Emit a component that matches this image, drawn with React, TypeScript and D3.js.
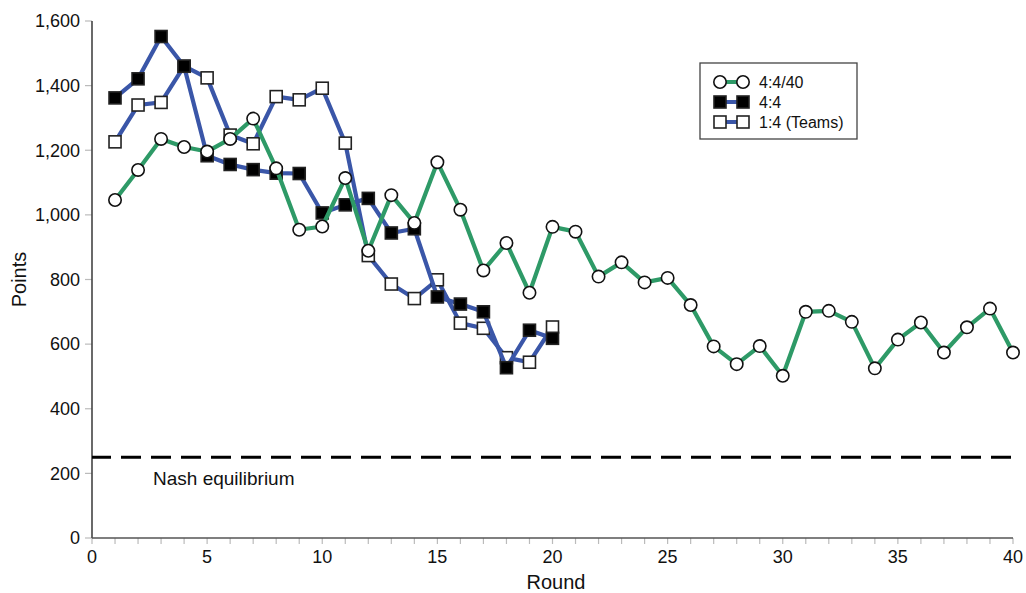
import * as d3 from 'd3'

const rounds40 = d3.range(1, 41)
const rounds20 = d3.range(1, 21)

const points4440 = [
  1046, 1139, 1235, 1210, 1196, 1235, 1298, 1144, 954, 964,
  1114, 889, 1061, 975, 1163, 1016, 828, 913, 759, 963,
  948, 809, 853, 791, 805, 721, 593, 538, 594, 502,
  700, 703, 669, 525, 614, 667, 574, 652, 710, 574,
]
const points44 = [
  1362, 1421, 1552, 1460, 1183, 1156, 1140, 1129, 1128, 1006,
  1031, 1051, 944, 957, 746, 724, 700, 527, 643, 618,
]
const pointsTeams = [
  1226, 1340, 1348, 1460, 1424, 1247, 1220, 1366, 1356, 1392,
  1222, 874, 786, 741, 799, 665, 649, 558, 544, 653,
]

const xTicks = [0, 5, 10, 15, 20, 25, 30, 35, 40]
const yTicks = [0, 200, 400, 600, 800, 1000, 1200, 1400, 1600]
const nashValue = 250

const width = 1026
const height = 593
const margin = { top: 21, right: 13, bottom: 55, left: 92 }
const green = '#2e9a67'
const blue = '#3a56a8'
const font = 'Liberation Sans, Arial, sans-serif'

type Series = {
  key: string
  label: string
  xs: number[]
  ys: number[]
  color: string
  marker: 'circle' | 'filled' | 'open'
}

// drawing order: teams, then 4:4, then 4:4/40 on top
const series: Series[] = [
  { key: 'teams', label: '1:4 (Teams)', xs: rounds20, ys: pointsTeams, color: blue, marker: 'open' },
  { key: 's44', label: '4:4', xs: rounds20, ys: points44, color: blue, marker: 'filled' },
  { key: 's4440', label: '4:4/40', xs: rounds40, ys: points4440, color: green, marker: 'circle' },
]
const legendOrder = ['s4440', 's44', 'teams']

function Marker({ type, x, y }: { type: Series['marker']; x: number; y: number }) {
  if (type === 'circle') {
    return <circle cx={x} cy={y} r={6.2} fill="#fff" stroke="#111" strokeWidth={1.6} />
  }
  return (
    <rect
      x={x - 6}
      y={y - 6}
      width={12}
      height={12}
      fill={type === 'filled' ? '#000' : '#fff'}
      stroke="#222"
      strokeWidth={1.6}
    />
  )
}

export default function App() {
  const x = d3.scaleLinear().domain([0, 40]).range([margin.left, width - margin.right])
  const y = d3.scaleLinear().domain([0, 1600]).range([height - margin.bottom, margin.top])
  const fmt = d3.format(',')

  const line = d3
    .line<[number, number]>()
    .x((d) => x(d[0]))
    .y((d) => y(d[1]))

  const x0 = x(0)
  const y0 = y(0)

  return (
    <svg
      width={width}
      height={height}
      style={{ position: 'absolute', left: 0, top: 0, background: '#fff' }}
      fontFamily={font}
    >
      {/* y axis */}
      {yTicks.map((t) => (
        <g key={`y${t}`}>
          <line x1={x0 - 7} x2={x0} y1={y(t)} y2={y(t)} stroke="#bbb" strokeWidth={1.2} />
          <text x={x0 - 12} y={y(t)} dy="0.35em" textAnchor="end" fontSize={18} fill="#111">
            {fmt(t)}
          </text>
        </g>
      ))}
      <line x1={x0} x2={x0} y1={y(1600)} y2={y0} stroke="#444" strokeWidth={1.6} />

      {/* x axis */}
      {d3.range(0, 41).map((t) => (
        <line key={`xt${t}`} x1={x(t)} x2={x(t)} y1={y0} y2={y0 + 6} stroke="#bbb" strokeWidth={1.2} />
      ))}
      {xTicks.map((t) => (
        <text key={`xl${t}`} x={x(t)} y={y0 + 25} textAnchor="middle" fontSize={18} fill="#111">
          {t}
        </text>
      ))}
      <line x1={x0} x2={x(40)} y1={y0} y2={y0} stroke="#555" strokeWidth={1.6} />

      <text x={556} y={589} textAnchor="middle" fontSize={20} fill="#111">
        Round
      </text>
      <text transform={`translate(26 ${y(800)}) rotate(-90)`} textAnchor="middle" fontSize={20} fill="#111">
        Points
      </text>

      {/* Nash equilibrium */}
      <line
        x1={x0}
        x2={x(40)}
        y1={y(nashValue)}
        y2={y(nashValue)}
        stroke="#000"
        strokeWidth={3}
        strokeDasharray="20 10"
        strokeDashoffset={-29}
      />
      <text x={x0 + 61} y={y(nashValue) + 28} fontSize={19} fill="#111">
        Nash equilibrium
      </text>

      {/* series */}
      {series.map((s) => {
        const pts = s.xs.map((r, i) => [r, s.ys[i]] as [number, number])
        return (
          <g key={s.key}>
            <path d={line(pts) ?? ''} fill="none" stroke={s.color} strokeWidth={4.2} strokeLinejoin="round" />
            {pts.map((p, i) => (
              <Marker key={i} type={s.marker} x={x(p[0])} y={y(p[1])} />
            ))}
          </g>
        )
      })}

      {/* legend */}
      <rect x={700} y={63} width={157} height={76} fill="#fff" stroke="#444" strokeWidth={1.3} />
      {legendOrder.map((k, i) => {
        const s = series.find((d) => d.key === k)!
        const ly = 82 + i * 20
        return (
          <g key={`lg${k}`}>
            <line x1={720} x2={743} y1={ly} y2={ly} stroke={s.color} strokeWidth={4} />
            <Marker type={s.marker} x={720} y={ly} />
            <Marker type={s.marker} x={743} y={ly} />
            <text x={759} y={ly} dy="0.36em" fontSize={16} fill="#111">
              {s.label}
            </text>
          </g>
        )
      })}
    </svg>
  )
}
